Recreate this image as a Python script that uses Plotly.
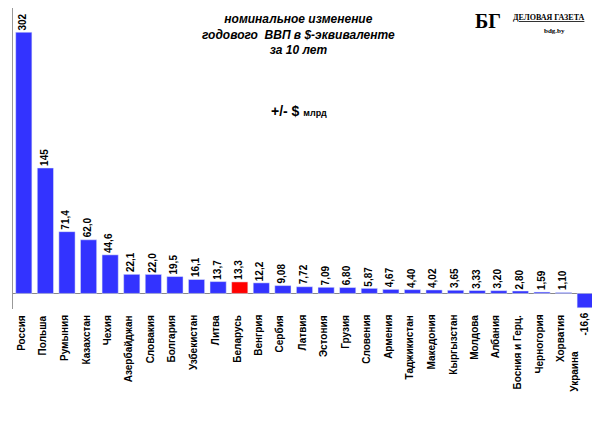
import plotly.graph_objects as go

countries = ["Россия", "Польша", "Румыния", "Казахстан", "Чехия", "Азербайджан", "Словакия",
             "Болгария", "Узбекистан", "Литва", "Беларусь", "Венгрия", "Сербия", "Латвия",
             "Эстония", "Грузия", "Словения", "Армения", "Таджикистан", "Македония",
             "Кыргызстан", "Молдова", "Албания", "Босния и Герц.", "Черногория", "Хорватия",
             "Украина"]
values = [302, 145, 71.4, 62.0, 44.6, 22.1, 22.0, 19.5, 16.1, 13.7, 13.3, 12.2, 9.08, 7.72,
          7.09, 6.80, 5.87, 4.67, 4.40, 4.02, 3.65, 3.33, 3.20, 2.80, 1.59, 1.10, -16.6]
value_labels = ["302", "145", "71,4", "62,0", "44,6", "22,1", "22,0", "19,5", "16,1", "13,7",
                "13,3", "12,2", "9,08", "7,72", "7,09", "6,80", "5,87", "4,67", "4,40", "4,02",
                "3,65", "3,33", "3,20", "2,80", "1,59", "1,10", "-16,6"]
highlight = "Беларусь"

colors = ["#FF0000" if c == highlight else "#3333FF" for c in countries]
font = dict(family="Arial, Liberation Sans", size=10, color="black")

fig = go.Figure(go.Bar(x=countries, y=values, marker_color=colors, width=0.75, cliponaxis=False))

for i, c in enumerate(countries):
    neg = values[i] < 0
    # value label above (or below) the bar
    fig.add_annotation(x=c, y=values[i], yanchor="top" if neg else "bottom", xanchor="center",
                       text="<b>%s</b>" % value_labels[i], textangle=-90, showarrow=False,
                       yshift=-3 if neg else 0, xshift=-1, font=font)
    # category label hanging below the plot
    fig.add_annotation(x=c, y=0, yref="paper", yanchor="top", xanchor="center",
                       text="<b>%s</b>" % c, textangle=-90, showarrow=False,
                       yshift=-40 if neg else -4, xshift=-11 if neg else -3, font=font)

fig.add_annotation(x=0.49, y=0.995, xref="paper", yref="paper", showarrow=False, yanchor="top",
                   text="<b><i>номинальное изменение<br>годового  ВВП в $-эквиваленте<br>за 10 лет</i></b>",
                   font=dict(family="Arial, Liberation Sans", size=12, color="black"), align="center")
fig.add_annotation(x=0.49, y=0.69, xref="paper", yref="paper", showarrow=False,
                   text="<b>+/- $ </b><span style='font-size:9px'><b>млрд</b></span>",
                   font=dict(family="Arial, Liberation Sans", size=14, color="black"))
fig.add_annotation(x=0.84, y=1.0, xref="paper", yref="paper", showarrow=False,
                   xanchor="right", yanchor="top",
                   text="<b>БГ</b>", font=dict(family="Liberation Serif", size=20, color="black"))
fig.add_annotation(x=0.985, y=0.99, xref="paper", yref="paper", showarrow=False,
                   xanchor="right", yanchor="top",
                   text="<b><u>ДЕЛОВАЯ ГАЗЕТА</u></b>",
                   font=dict(family="Liberation Serif", size=8, color="black"))
fig.add_annotation(x=0.95, y=0.945, xref="paper", yref="paper", showarrow=False,
                   xanchor="right", yanchor="top",
                   text="<b>bdg.by</b>", font=dict(family="Liberation Serif", size=7, color="black"))

fig.update_layout(
    width=600, height=429, margin=dict(l=5, r=12, t=0, b=128),
    paper_bgcolor="white", plot_bgcolor="white", showlegend=False,
    xaxis=dict(showticklabels=False, showline=False, ticks=""),
    yaxis=dict(range=[-18, 330], showticklabels=False, showgrid=False, zeroline=True,
               zerolinecolor="#888888", zerolinewidth=1, showline=True, linecolor="#999999"),
)

fig.write_html("out.html")
